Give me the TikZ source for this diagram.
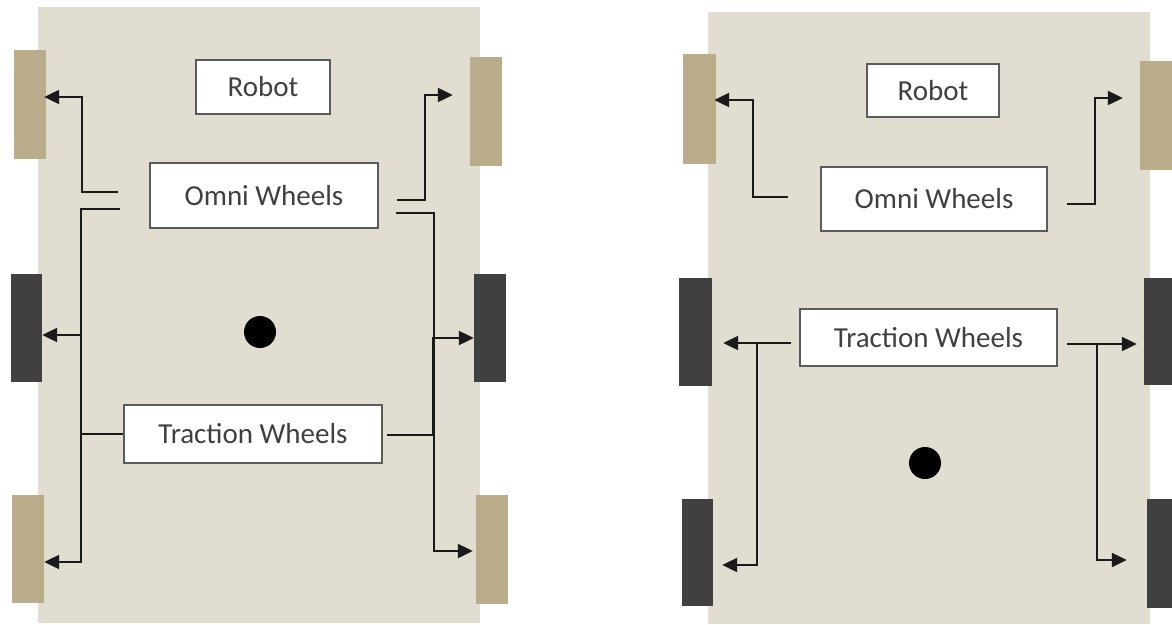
\documentclass[tikz,border=0pt]{standalone}
\usepackage{fontspec}
\setmainfont{Carlito}
\usetikzlibrary{arrows.meta}
\definecolor{chassis}{HTML}{E2DDD1}
\definecolor{omnitan}{HTML}{B9AD8C}
\definecolor{tractiondark}{HTML}{404040}
\definecolor{boxline}{HTML}{5B5B5B}
\definecolor{labeltext}{HTML}{404040}
\definecolor{wire}{HTML}{1A1A1A}
\tikzset{
  omni/.style={fill=omnitan, draw=none, inner sep=0pt},
  traction/.style={fill=tractiondark, draw=none, inner sep=0pt},
  labelbox/.style={fill=white, draw=boxline, line width=1.8pt, inner sep=0pt,
    text=labeltext, font=\fontsize{29}{34}\selectfont},
  wirearrow/.style={draw=wire, line width=2.2pt, -{Triangle[length=15pt,width=14pt]}},
  hub/.style={circle, fill=black, inner sep=0pt, minimum size=32pt}
}
\begin{document}
\begin{tikzpicture}[x=1pt, y=-1pt]
\useasboundingbox (0,0) rectangle (1172,624);

% ---------- first layout: omni wheels at the corners ----------
\fill[chassis] (38,7) rectangle (480,623);
\node[omni, minimum width=32pt, minimum height=109pt] (aWL1) at (30,104.5) {};
\node[traction, minimum width=31pt, minimum height=108pt] (aWL2) at (26.5,328) {};
\node[omni, minimum width=32pt, minimum height=108pt] (aWL3) at (28,549) {};
\node[omni, minimum width=32pt, minimum height=109pt] (aWR1) at (486,111.5) {};
\node[traction, minimum width=32pt, minimum height=108pt] (aWR2) at (490,328) {};
\node[omni, minimum width=32pt, minimum height=109pt] (aWR3) at (492,549.5) {};

\node[labelbox, minimum width=134pt, minimum height=54pt] (aRobot) at (263,87) {Robot};
\node[labelbox, minimum width=228pt, minimum height=65pt] (aOmni) at (264,195.5) {Omni Wheels};
\node[labelbox, minimum width=258pt, minimum height=58pt] (aTrac) at (253,434) {Traction Wheels};
\node[hub] (aHub) at (260,332) {};

\coordinate (aO1) at (118,192);
\coordinate (aO2) at (120,209);
\coordinate (aO3) at (397,200);
\coordinate (aO4) at (396,213);
\coordinate (aT1) at (387,435);

\draw[wirearrow, shorten >=-2pt] (aO1) -- ++(-36,0) |- ([yshift=7.5pt]aWL1.east);
\draw[wirearrow] (aO2) -- ++(-39,0) |- ([yshift=-13pt]aWL3.east);
\draw[wirearrow] (aTrac.west) -- ++(-42,0) |- ([yshift=-7pt]aWL2.east);
\draw[wirearrow, shorten >=17pt] (aO3) -- ++(28,0) |- ([yshift=16.5pt]aWR1.west);
\draw[wirearrow, shorten >=3pt] (aO4) -- ++(38,0) |- ([yshift=-1.5pt]aWR3.west);
\draw[wirearrow] (aT1) -- ++(46,0) |- ([yshift=-10pt]aWR2.west);

% ---------- second layout: traction wheels at the rear ----------
\fill[chassis] (708,12) rectangle (1150,624);
\node[omni, minimum width=33pt, minimum height=110pt] (bWL1) at (699.5,109) {};
\node[traction, minimum width=33pt, minimum height=108pt] (bWL2) at (695.5,332) {};
\node[traction, minimum width=31pt, minimum height=107pt] (bWL3) at (697.5,552.5) {};
\node[omni, minimum width=32pt, minimum height=109pt] (bWR1) at (1156,115.5) {};
\node[traction, minimum width=32pt, minimum height=107pt] (bWR2) at (1160,331.5) {};
\node[traction, minimum width=32pt, minimum height=109pt] (bWR3) at (1163,553.5) {};

\node[labelbox, minimum width=132pt, minimum height=53pt] (bRobot) at (933,90.5) {Robot};
\node[labelbox, minimum width=226pt, minimum height=64pt] (bOmni) at (934,199) {Omni Wheels};
\node[labelbox, minimum width=257pt, minimum height=57pt] (bTrac) at (928.5,337.5) {Traction Wheels};
\node[hub] (bHub) at (925,463) {};

\coordinate (bO1) at (788,197);
\coordinate (bO2) at (1067,204);
\coordinate (bT1) at (791,343);
\coordinate (bJ1) at (757,343);
\coordinate (bT2) at (1067,344);
\coordinate (bJ2) at (1097,344);

\draw[wirearrow, shorten >=-2pt] (bO1) -- ++(-35,0) |- ([yshift=9pt]bWL1.east);
\draw[wirearrow, shorten >=17pt] (bO2) -- ++(28,0) |- ([yshift=17.5pt]bWR1.west);
\draw[wirearrow, shorten >=11pt] (bT1) -- ([yshift=-11pt]bWL2.east);
\draw[wirearrow, shorten >=9pt] (bJ1) |- ([yshift=-12.5pt]bWL3.east);
\draw[wirearrow, shorten >=7pt] (bT2) -- ([yshift=-12.5pt]bWR2.west);
\draw[wirearrow, shorten >=20pt] (bJ2) |- ([yshift=-6.5pt]bWR3.west);
\end{tikzpicture}
\end{document}
